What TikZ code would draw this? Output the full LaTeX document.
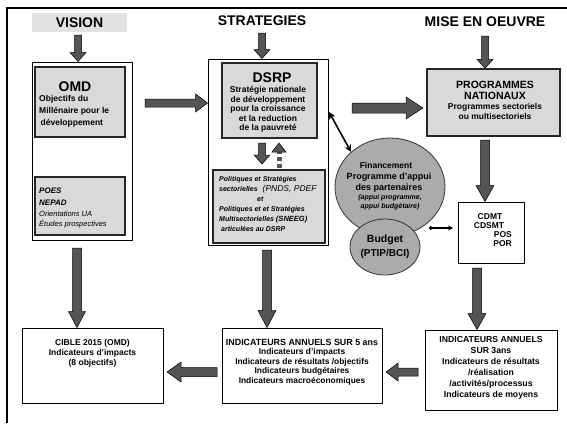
\documentclass[tikz,border=0pt]{standalone}
\usepackage{fontspec}
\setmainfont{Liberation Sans}
\usetikzlibrary{calc,arrows.meta,shapes.geometric}
\definecolor{boxgray}{HTML}{D9D9D9}
\definecolor{circgray}{HTML}{ABABAB}
\definecolor{arrgray}{HTML}{555555}
\definecolor{bandgray}{HTML}{E2E2E2}
\newcommand\fsz[2]{\fontsize{#1}{#2}\selectfont}
\newcommand\barrow[5]{%
  \coordinate (ba-s) at (#1);
  \coordinate (ba-t) at (#2);
  \coordinate (ba-h) at ($(ba-t)!#5pt!(ba-s)$);
  \draw[blk] ($(ba-s)!#3pt!90:(ba-t)$) -- ($(ba-h)!#3pt!90:(ba-t)$) -- ($(ba-h)!#4pt!90:(ba-t)$) -- (ba-t) -- ($(ba-h)!#4pt!-90:(ba-t)$) -- ($(ba-h)!#3pt!-90:(ba-t)$) -- ($(ba-s)!#3pt!-90:(ba-t)$) -- cycle;
}
\tikzset{
  blk/.style={draw=black, fill=arrgray, line width=0.5pt, line join=miter},
  plainbox/.style={draw=black, line width=0.9pt, fill=white, inner sep=0pt},
  graybox/.style={draw=black!85, line width=1.3pt, fill=boxgray, inner sep=0pt},
  circ/.style={ellipse, draw=black!80, line width=0.8pt, fill=circgray, inner sep=0pt},
  title/.style={font=\bfseries\fsz{14}{16}, inner sep=0pt},
  txt/.style={inner sep=0pt, font=\bfseries\fsz{8.5}{10}},
}
\begin{document}
\begin{tikzpicture}[x=1pt,y=-1pt]
\useasboundingbox (0,0) rectangle (567,423);
\fill[white] (0,0) rectangle (567,423);
% frame
\coordinate (fbl) at (7,423); \coordinate (ftl) at (7,8); \coordinate (ftr) at (567,8);
\draw[line width=2pt] (fbl) -- (ftl) -- (ftr);

% titles
\node[title, fill=bandgray, minimum width=95pt, minimum height=19pt] (vision) at (79.5,22.5) {VISION};
\node[title] (strat) at (262,21) {STRATEGIES};
\node[title] (mise) at (485,22) {MISE EN OEUVRE};

% boxes
\node[plainbox, minimum width=100pt, minimum height=178pt] (omdout) at (82,151) {};
\node[graybox, minimum width=90pt, minimum height=70pt] (omd) at (80,102) {};
\node[graybox, minimum width=90pt, minimum height=58pt] (poes) at (80,206) {};
\node[plainbox, minimum width=120pt, minimum height=186pt] (dsrpout) at (268,152) {};
\node[graybox, minimum width=95pt, minimum height=75pt] (dsrp) at (269.5,100.5) {};
\node[graybox, minimum width=112pt, minimum height=73pt] (pol) at (269,206.5) {};
\node[graybox, minimum width=133pt, minimum height=67pt] (prog) at (493.5,102.5) {};
\node[plainbox, minimum width=66pt, minimum height=61pt] (cdmt) at (491,232.5) {};
\node[plainbox, minimum width=132pt, minimum height=80pt] (ind3) at (491,370) {};
\node[plainbox, minimum width=160pt, minimum height=75pt] (ind5) at (302,365.5) {};
\node[plainbox, minimum width=141pt, minimum height=75pt] (cible) at (92.5,365.5) {};
\node[circ, minimum width=110pt, minimum height=98pt] (fin) at (390,187) {};

% OMD texts
\node[title] (omdt) at (75,87) {OMD};
\node[txt, anchor=north west, align=left, font=\bfseries\fsz{8.5}{12}] (omdl) at (39,95) {Objectifs du\\Millénaire pour le\\\hspace{1.5pt}développement};
\node[txt, anchor=north west, align=left, font=\bfseries\itshape\fsz{8}{11.5}] (poest) at (39,188) {POES\\NEPAD};
\node[txt, anchor=north west, align=left, font=\itshape\fsz{7.5}{10}] (poesl) at (39,211) {Orientations UA\\Études prospectives};

% DSRP texts
\node[title] (dsrpt) at (272,78) {DSRP};
\node[txt, anchor=north, align=center, font=\bfseries\fsz{8.5}{9.6}] (dsrpl) at (268,86) {Stratégie nationale\\de développement\\pour la croissance\\et la reduction\\de la pauvreté};
\node[txt, anchor=north west, align=left, font=\bfseries\itshape\fsz{7}{10}] (poll) at (219,176) {Politiques et Stratégies\\sectorielles \hspace{3pt}{\mdseries\fsz{8.5}{10}(PNDS, PDEF}\\\hspace{38pt}et\\Politiques et et Stratégies\\Multisectorielles {\fsz{7.5}{10}(SNEEG)}\\\hspace{2pt}articulées au DSRP};

% PROGRAMMES texts
\node[txt, anchor=north, align=center, font=\bfseries\fsz{10.5}{11}] (progt) at (495,81) {PROGRAMMES\\NATIONAUX};
\node[txt, anchor=north, align=center, font=\bfseries\fsz{8.5}{10}] (progl) at (495,103) {Programmes sectoriels\\ou multisectoriels};

% CDMT texts
\node[txt, font=\bfseries\fsz{8.5}{9}] (c1) at (490,217) {CDMT};
\node[txt, font=\bfseries\fsz{8.5}{9}] (c2) at (489,226) {CDSMT};
\node[txt, anchor=east, font=\bfseries\fsz{8.5}{9}] (c3) at (512,235) {POS};
\node[txt, anchor=east, font=\bfseries\fsz{8.5}{9}] (c4) at (512,244) {POR};

% indicators texts
\node[txt, align=center, font=\bfseries\fsz{8.7}{11}] (ind3l) at (491,368) {INDICATEURS ANNUELS\\SUR 3ans\\Indicateurs de résultats\\/réalisation\\/activités/processus\\Indicateurs de moyens};
\node[txt, align=center, font=\bfseries\fsz{8.4}{9.5}] (ind5l) at (302,362) {{\fsz{8.9}{9.5}INDICATEURS ANNUELS SUR 5 ans}\\Indicateurs d'impacts\\Indicateurs de résultats /objectifs\\Indicateurs budgétaires\\Indicateurs macroéconomiques};
\node[txt, align=center, font=\bfseries\fsz{8.5}{10}] (ciblel) at (92.5,353) {CIBLE 2015 (OMD)\\Indicateurs d'impacts\\(8 objectifs)};

% financement texts
\node[txt, font=\bfseries\fsz{8.5}{10}] (f1) at (386,165) {Financement};
\node[txt, font=\bfseries\fsz{9}{10}] (f2) at (389,177) {Programme d'appui};
\node[txt, font=\bfseries\fsz{9}{10}] (f3) at (389,188) {des partenaires};
\node[txt, font=\bfseries\itshape\fsz{7}{9}] (f4) at (390,198) {(appui programme,};
\node[txt, font=\bfseries\itshape\fsz{7}{9}] (f5) at (390,207) {appui budgétaire)};

% budget
\node[circ, minimum width=70pt, minimum height=56pt] (bud) at (385,247) {};
\node[txt, font=\bfseries\fsz{10.5}{12}] (b1) at (385,240) {Budget};
\node[txt, font=\bfseries\fsz{10}{12}] (b2) at (385,254) {(PTIP/BCI)};

% title arrows
\coordinate (v1) at (78,35);
\barrow{v1}{v1 |- omdout.north}{3.5}{8}{9}
\coordinate (s1) at (262,33);
\barrow{s1}{s1 |- dsrpout.north}{3.5}{8}{9}
\coordinate (m1) at (485,36);
\barrow{m1}{m1 |- prog.north}{3.5}{8}{9}

% horizontal arrows top
\coordinate (h1) at (145,103);
\barrow{h1}{h1 -| dsrpout.west}{4}{9}{12}
\coordinate (h2) at (352,108);
\coordinate (h2e) at (423,108);
\barrow{h2}{h2e}{5}{11}{17}

% DSRP <-> Politiques
\coordinate (dd) at (262,143);
\barrow{dd}{dd |- 0,164}{3.5}{8}{9}
\coordinate (du-s) at (279,168);
\coordinate (du-t) at (279,143);
\draw[arrgray, line width=5pt, dash pattern=on 4pt off 3pt] (du-s) -- ($(du-t)+(0,9)$);
\draw[blk] ($(du-t)+(-7,9)$) -- (du-t) -- ($(du-t)+(7,9)$) -- cycle;

% vertical big arrows
\coordinate (o1) at (77,248);
\barrow{o1}{o1 |- cible.north}{4.5}{8.5}{16}
\coordinate (d1) at (267,250);
\barrow{d1}{d1 |- ind5.north}{4.5}{9}{17}
\coordinate (p1) at (485,140);
\barrow{p1}{p1 |- cdmt.north}{4.5}{9}{16}
\coordinate (q1) at (477,268);
\barrow{q1}{q1 |- ind3.north}{4.5}{9}{16}

% bottom horizontal arrows
\coordinate (r1) at (418,372);
\coordinate (r2) at (386,372);
\barrow{r1}{r2}{4}{9}{12}
\coordinate (l1) at (217,372);
\coordinate (l2) at (167,372);
\barrow{l1}{l2}{4.5}{10}{14}

% double arrow DSRP <-> financement
\coordinate (da) at (329,112);
\draw[line width=1.6pt, {Stealth[length=7pt,width=7pt]}-{Stealth[length=7pt,width=7pt]}] (da) -- (fin.138);

% small arrow to CDMT
\coordinate (sa) at (429,228);
\coordinate (sb) at (453,228);
\draw[line width=1.3pt, {Circle[length=3.5pt]}-{Stealth[length=5pt,width=5pt]}] (sa) -- (sb);
\end{tikzpicture}
\end{document}
